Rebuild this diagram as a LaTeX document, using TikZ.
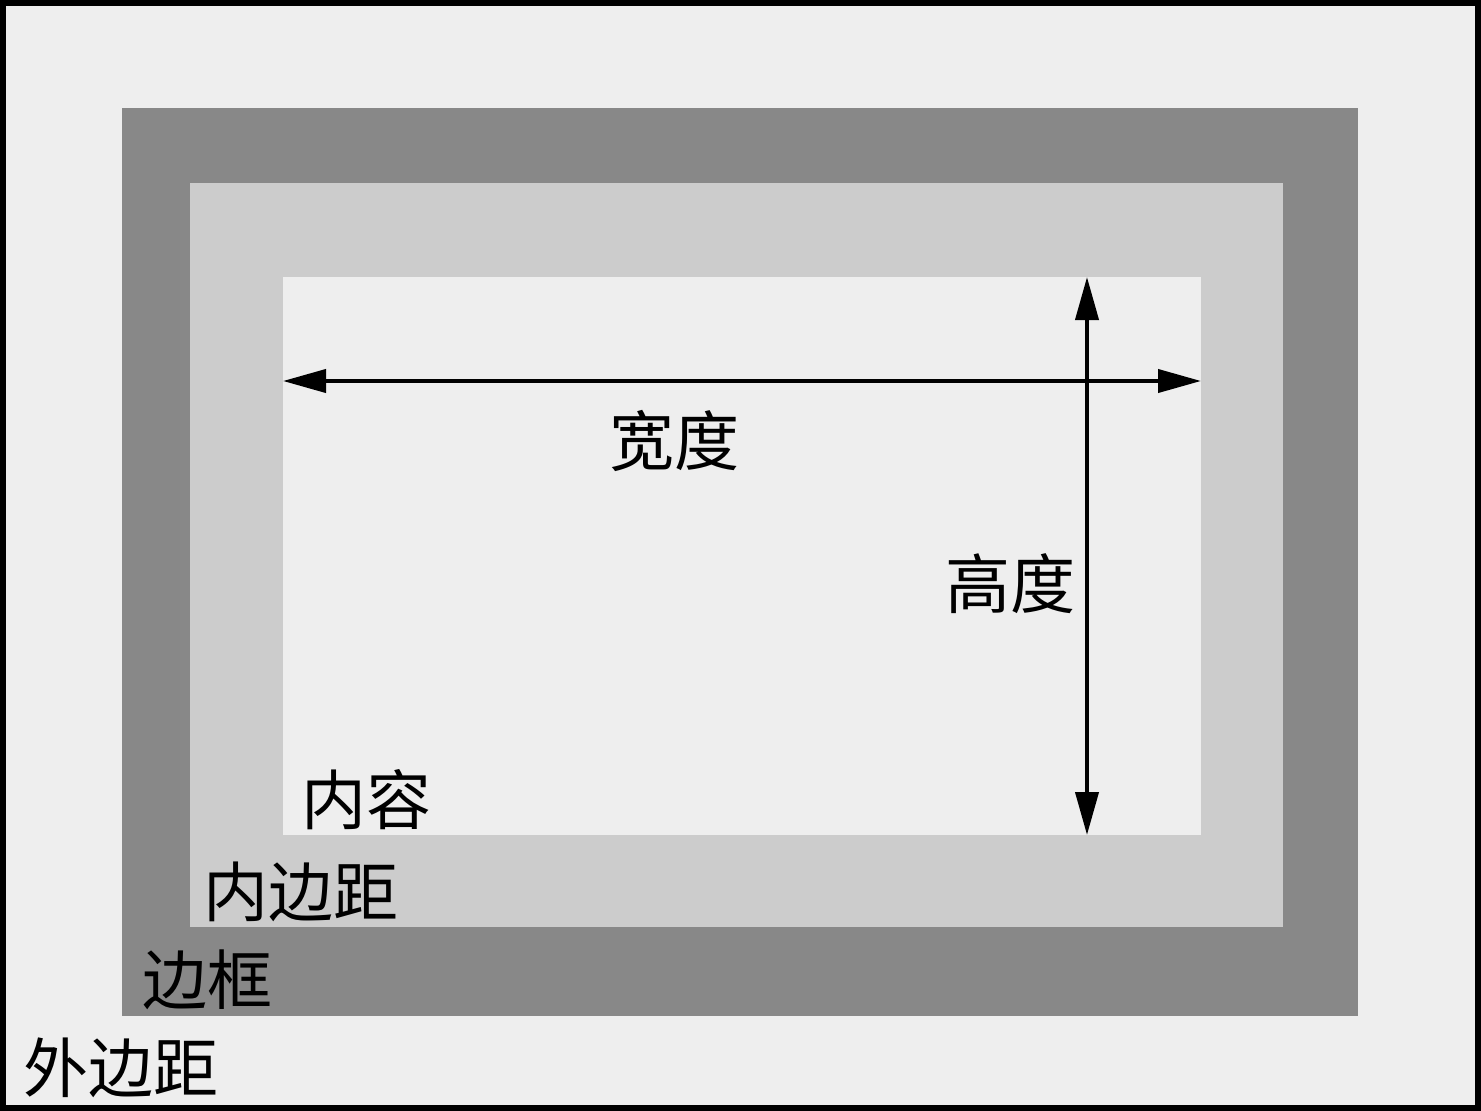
\documentclass[tikz,border=0pt]{standalone}
\usepackage{fontspec}
\newfontfamily\cjk{Noto Sans CJK SC}
\usetikzlibrary{arrows.meta}
\definecolor{marginfill}{HTML}{EEEEEE}
\definecolor{borderfill}{HTML}{888888}
\definecolor{paddingfill}{HTML}{CCCCCC}
\definecolor{contentfill}{HTML}{EEEEEE}
\tikzset{
	lbl/.style={font=\cjk\fontsize{65}{70}\selectfont, inner sep=0pt},
	dim/.style={line width=4pt, {Triangle[length=43pt,width=23pt]}-{Triangle[length=43pt,width=23pt]}}
}
\begin{document}
\begin{tikzpicture}[x=1pt,y=-1pt]
	\useasboundingbox (0,0) rectangle (1481,1111);

%	boxes
	\draw[line width=6pt, fill=marginfill] (3,3) rectangle (1478,1108);
	\fill[borderfill] (122,108) rectangle (1358,1016);
	\fill[paddingfill] (190,183) rectangle (1283,927);
	\fill[contentfill] (283,277) rectangle (1201,835);

	\coordinate (wl) at (283,381);
	\coordinate (wr) at (1201,381);
	\coordinate (ht) at (1087,277);
	\coordinate (hb) at (1087,835);
	\draw[dim] (wl) -- (wr);
	\draw[dim] (ht) -- (hb);

	\node[lbl] (width) at (674,441) {宽度};
	\node[lbl] (height) at (1010,584) {高度};
	\node[lbl] (content) at (366,800) {内容};
	\node[lbl] (padding) at (301,892) {内边距};
	\node[lbl] (border) at (207,980) {边框};
	\node[lbl] (margin) at (121,1068) {外边距};

\end{tikzpicture}
\end{document}
